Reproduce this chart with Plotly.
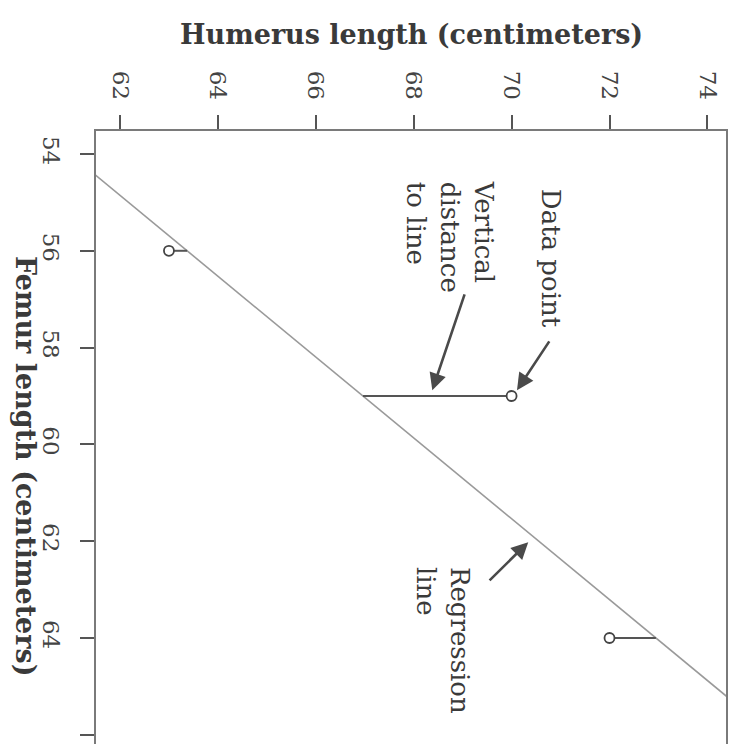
import plotly.graph_objects as go

# ---- data ----
femur_cm = [56, 59, 64]
humerus_cm = [63, 70, 72]
humerus_ticks = [62, 64, 66, 68, 70, 72, 74]
femur_ticks = [54, 56, 58, 60, 62, 64, 66]
reg_intercept = -3.66   # humerus = intercept + slope * femur
reg_slope = 1.197
reg_femur_span = [53.0, 67.0]

SERIF = "DejaVu Serif"
TXT = "#3a3a3a"

def reg(f):
    return reg_intercept + reg_slope * f

fig = go.Figure()

# regression line (humerus on x, femur on y)
fig.add_trace(go.Scatter(
    x=[reg(f) for f in reg_femur_span], y=reg_femur_span, mode="lines",
    line=dict(color="#9a9a9a", width=1.6), hoverinfo="skip", showlegend=False))

# residual segments
for f, h in zip(femur_cm, humerus_cm):
    fig.add_trace(go.Scatter(
        x=[h, reg(f)], y=[f, f], mode="lines",
        line=dict(color="#555555", width=2), hoverinfo="skip", showlegend=False))

# data points
fig.add_trace(go.Scatter(
    x=humerus_cm, y=femur_cm, mode="markers",
    marker=dict(symbol="circle", size=10, color="white",
                line=dict(color="#444444", width=1.8)),
    showlegend=False))

axis_common = dict(
    showgrid=False, zeroline=False, showline=True, linecolor="#7a7a7a",
    linewidth=2, ticks="outside", ticklen=14, tickwidth=2, tickcolor="#555555",
    tickangle=90, automargin=False, tickfont=dict(family=SERIF, size=23, color="#444444"))

# page has an 8px body margin, so the figure is 730x736 and offsets are reduced by 8
fig.update_layout(
    width=730, height=736,
    margin=dict(l=88, r=12, t=123, b=0, autoexpand=False),
    paper_bgcolor="white", plot_bgcolor="white",
    xaxis=dict(side="top", range=[61.51, 74.38], tickvals=humerus_ticks,
               ticklabelstandoff=7, **axis_common),
    yaxis=dict(range=[66.19, 53.525], tickvals=femur_ticks, mirror=True,
               ticklabelstandoff=9, **axis_common),
)

# axis titles (paper coords; plot area spans page px 96..726 x 131..744)
fig.add_annotation(text="<b>Humerus length (centimeters)</b>", xref="paper", yref="paper",
                   x=(411 - 96) / 630, y=(744 - 35) / 613, xanchor="center", yanchor="middle",
                   showarrow=False, font=dict(family=SERIF, size=27, color=TXT))
fig.add_annotation(text="<b>Femur length (centimeters)</b>", xref="paper", yref="paper",
                   x=(26 - 96) / 630, y=(744 - 466) / 613, xanchor="center", yanchor="middle",
                   textangle=90, showarrow=False, font=dict(family=SERIF, size=27, color=TXT))

# callout texts
lbl_font = dict(family=SERIF, size=26, color=TXT)
fig.add_annotation(text="Data point", x=70.81, y=56.15, xref="x", yref="y",
                   textangle=90, showarrow=False, font=lbl_font,
                   xanchor="center", yanchor="middle")
fig.add_annotation(text="Vertical<br>distance<br>to line", x=68.74, y=55.71, xref="x", yref="y",
                   textangle=90, showarrow=False, font=lbl_font, align="left",
                   xanchor="center", yanchor="middle")
fig.add_annotation(text="Regression<br>line", x=68.6, y=64.04, xref="x", yref="y",
                   textangle=90, showarrow=False, font=lbl_font, align="left",
                   xanchor="center", yanchor="middle")

# callout arrows (tip at x/y, tail at ax/ay)
arrows = [
    (70.11, 58.88, 70.79, 57.84),
    (68.38, 58.88, 69.05, 56.87),
    (70.34, 62.02, 69.52, 62.84),
]
for tx, ty, sx, sy in arrows:
    fig.add_annotation(text="", x=tx, y=ty, ax=sx, ay=sy, xref="x", yref="y",
                       axref="x", ayref="y", showarrow=True, arrowhead=2,
                       arrowsize=1.3, arrowwidth=2.6, arrowcolor="#4a4a4a")

fig.write_html("out.html")
